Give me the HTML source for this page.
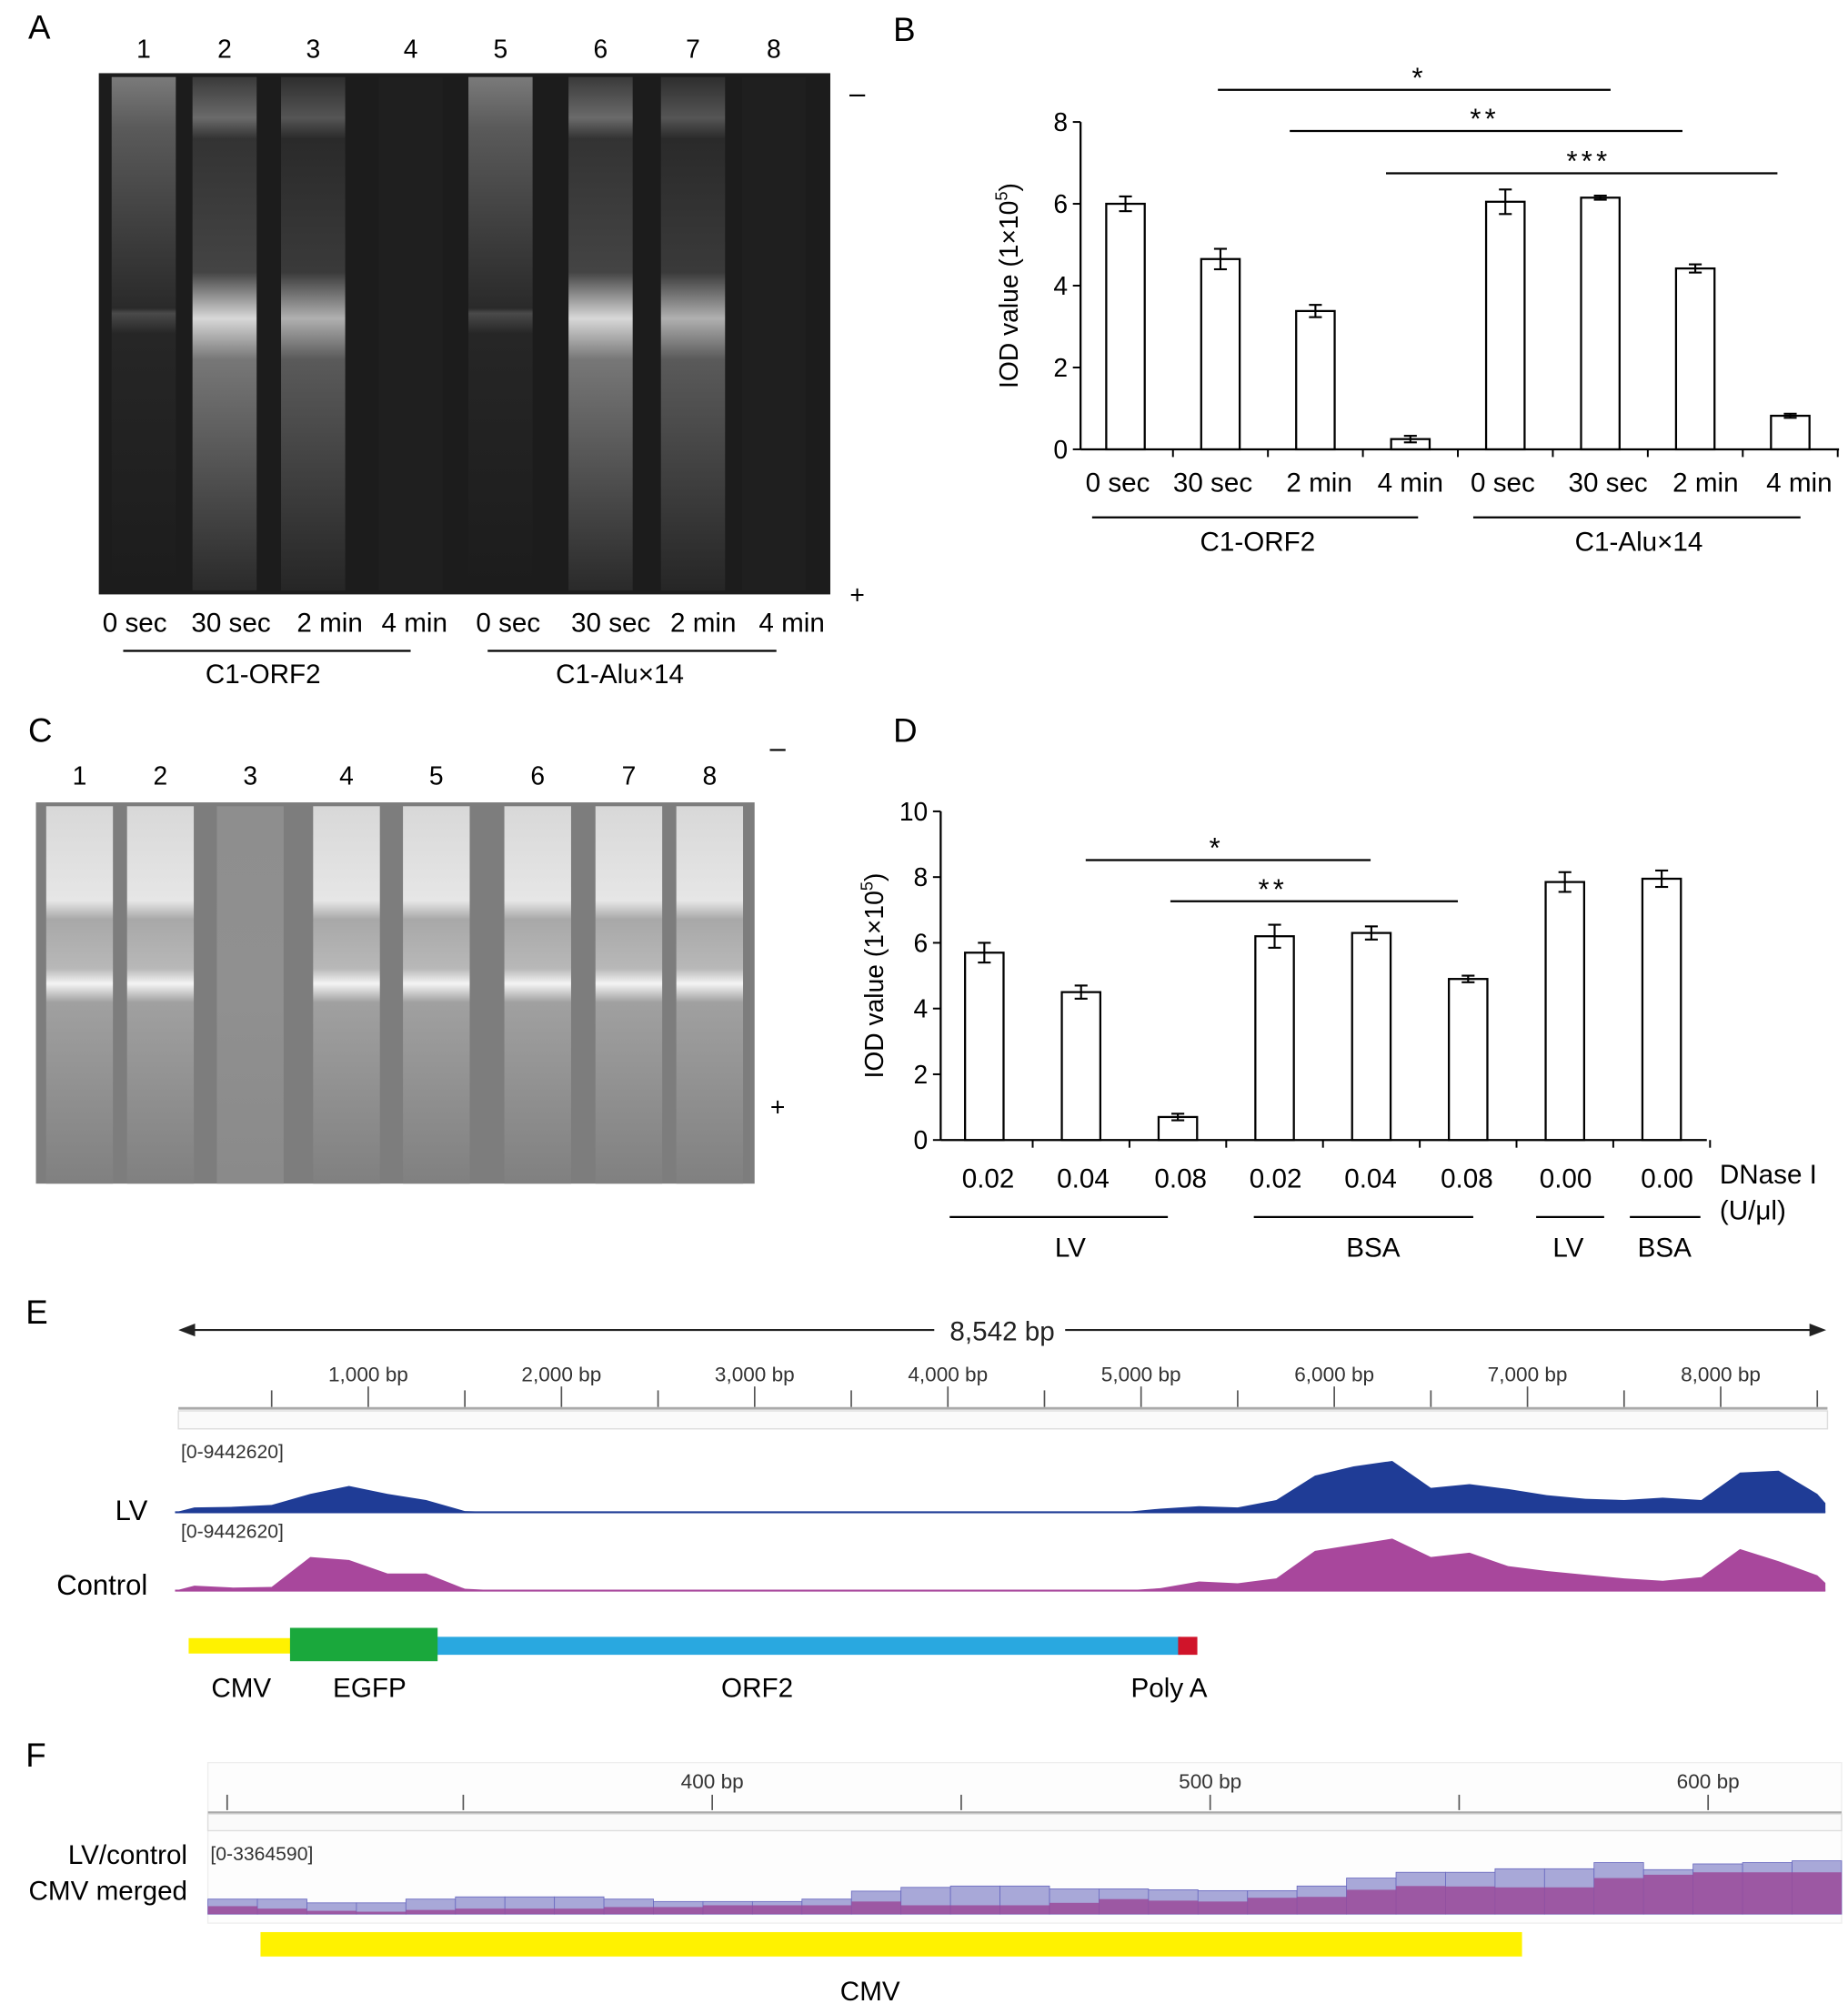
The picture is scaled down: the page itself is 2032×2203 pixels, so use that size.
<!DOCTYPE html>
<html><head><meta charset="utf-8"><style>
html,body{margin:0;padding:0;background:#fff;}
svg{display:block;font-family:"Liberation Sans",Arial,sans-serif;}
</style></head><body>
<svg id="fig" width="2032" height="2203" viewBox="0 0 1440 1561" preserveAspectRatio="none" xmlns="http://www.w3.org/2000/svg">
<defs>
<linearGradient id="gA1" x1="0" y1="0" x2="0" y2="1"><stop offset="0" stop-color="#7a7a7a"/><stop offset="0.1" stop-color="#5a5a5a"/><stop offset="0.3" stop-color="#3e3e3e"/><stop offset="0.45" stop-color="#2a2a2a"/><stop offset="0.46" stop-color="#4a4a4a"/><stop offset="0.5" stop-color="#262626"/><stop offset="1" stop-color="#1c1c1c"/></linearGradient>
<linearGradient id="gA2" x1="0" y1="0" x2="0" y2="1"><stop offset="0" stop-color="#3a3a3a"/><stop offset="0.08" stop-color="#6a6a6a"/><stop offset="0.12" stop-color="#333"/><stop offset="0.38" stop-color="#444"/><stop offset="0.47" stop-color="#d8d8d8"/><stop offset="0.55" stop-color="#777"/><stop offset="1" stop-color="#2a2a2a"/></linearGradient>
<linearGradient id="gA3" x1="0" y1="0" x2="0" y2="1"><stop offset="0" stop-color="#2e2e2e"/><stop offset="0.08" stop-color="#555"/><stop offset="0.12" stop-color="#2a2a2a"/><stop offset="0.38" stop-color="#3a3a3a"/><stop offset="0.47" stop-color="#b0b0b0"/><stop offset="0.55" stop-color="#5a5a5a"/><stop offset="1" stop-color="#262626"/></linearGradient>
<linearGradient id="gC" x1="0" y1="0" x2="0" y2="1"><stop offset="0" stop-color="#d8d8d8"/><stop offset="0.25" stop-color="#e6e6e6"/><stop offset="0.3" stop-color="#a8a8a8"/><stop offset="0.43" stop-color="#b8b8b8"/><stop offset="0.47" stop-color="#f4f4f4"/><stop offset="0.52" stop-color="#a0a0a0"/><stop offset="1" stop-color="#808080"/></linearGradient>
<linearGradient id="gC3" x1="0" y1="0" x2="0" y2="1"><stop offset="0" stop-color="#8e8e8e"/><stop offset="0.5" stop-color="#909090"/><stop offset="1" stop-color="#8a8a8a"/></linearGradient>
</defs>

<!-- PANEL A -->
<g>
<text x="22" y="30" font-size="26">A</text>
<rect x="77" y="57" width="570" height="406" fill="#1c1c1c"/>
<g id="gelALanes"></g>
<g font-size="20" text-anchor="middle" id="laneNumsA"></g>
<text x="668" y="80" font-size="22" text-anchor="middle">–</text>
<text x="668" y="470" font-size="20" text-anchor="middle">+</text>
<g font-size="21" text-anchor="middle" id="laneLabA"></g>
<line x1="96" y1="507" x2="320" y2="507" stroke="#000" stroke-width="1.6"/>
<line x1="380" y1="507" x2="605" y2="507" stroke="#000" stroke-width="1.6"/>
<text x="205" y="532" font-size="21" text-anchor="middle">C1-ORF2</text>
<text x="483" y="532" font-size="21" text-anchor="middle">C1-Alu×14</text>
</g>

<!-- PANEL B -->
<g>
<text x="696" y="32" font-size="26">B</text>
<g id="chartB"></g>
</g>

<!-- PANEL C -->
<g>
<text x="22" y="578" font-size="26">C</text>
<rect x="28" y="625" width="560" height="297" fill="#7d7d7d"/>
<g id="gelCLanes"></g>
<g font-size="20" text-anchor="middle" id="laneNumsC"></g>
<text x="606" y="590" font-size="22" text-anchor="middle">–</text>
<text x="606" y="869" font-size="20" text-anchor="middle">+</text>
</g>

<!-- PANEL D -->
<g>
<text x="696" y="578" font-size="26">D</text>
<g id="chartD"></g>
</g>

<!-- PANEL E -->
<g>
<text x="20" y="1031" font-size="26">E</text>
<line x1="146" y1="1036" x2="728" y2="1036" stroke="#222" stroke-width="1.5"/>
<line x1="830" y1="1036" x2="1416" y2="1036" stroke="#222" stroke-width="1.5"/>
<polygon points="139,1036 152,1031 152,1041" fill="#222"/>
<polygon points="1423,1036 1410,1031 1410,1041" fill="#222"/>
<text x="781" y="1044" font-size="21" text-anchor="middle" fill="#222">8,542 bp</text>
<g id="rulerE"></g>
<line x1="139" y1="1097" x2="1424" y2="1097" stroke="#aaa" stroke-width="2"/>
<rect x="139" y="1099" width="1285" height="14" fill="#fafafa" stroke="#ddd" stroke-width="1"/>
<text x="141" y="1136" font-size="15" fill="#333">[0-9442620]</text>
<text x="141" y="1198" font-size="15" fill="#333">[0-9442620]</text>
<text x="115" y="1184" font-size="22" text-anchor="end">LV</text>
<text x="115" y="1242" font-size="22" text-anchor="end">Control</text>
<g id="covE"></g>
<rect x="147" y="1276" width="80" height="12" fill="#fff200"/>
<rect x="340" y="1275" width="580" height="14" fill="#29a8e0"/>
<rect x="226" y="1268" width="115" height="26" fill="#1aa83c"/>
<rect x="918" y="1275" width="15" height="14" fill="#d0142a"/>
<g font-size="21" text-anchor="middle">
<text x="188" y="1322">CMV</text><text x="288" y="1322">EGFP</text><text x="590" y="1322">ORF2</text><text x="911" y="1322">Poly A</text>
</g>
</g>

<!-- PANEL F -->
<g>
<text x="20" y="1376" font-size="26">F</text>
<rect x="162" y="1373" width="1273" height="125" fill="#fdfdfd" stroke="#eee" stroke-width="1"/>
<g id="rulerF"></g>
<line x1="162" y1="1412" x2="1435" y2="1412" stroke="#aaa" stroke-width="2"/>
<rect x="162" y="1413" width="1273" height="13" fill="#fafafa" stroke="#ddd" stroke-width="1"/>
<text x="164" y="1449" font-size="15" fill="#333">[0-3364590]</text>
<text x="146" y="1452" font-size="21" text-anchor="end">LV/control</text>
<text x="146" y="1480" font-size="21" text-anchor="end">CMV merged</text>
<g id="covF"></g>
<rect x="203" y="1505" width="983" height="19" fill="#fff200"/>
<text x="678" y="1558" font-size="21" text-anchor="middle">CMV</text>
</g>
</svg>
<script>
// ---------- data ----------
const laneNumbersA = ["1","2","3","4","5","6","7","8"];
const timeLabels = ["0 sec","30 sec","2 min","4 min","0 sec","30 sec","2 min","4 min"];
const bValues = [6.0, 4.65, 3.38, 0.25, 6.05, 6.15, 4.42, 0.82];
const bErrors = [0.18, 0.25, 0.15, 0.08, 0.3, 0.05, 0.1, 0.05];
const bTicks = [0, 2, 4, 6, 8];
const dCategories = ["0.02","0.04","0.08","0.02","0.04","0.08","0.00","0.00"];
const dValues = [5.7, 4.5, 0.7, 6.2, 6.3, 4.9, 7.85, 7.95];
const dErrors = [0.3, 0.2, 0.1, 0.35, 0.2, 0.1, 0.3, 0.25];
const dTicks = [0, 2, 4, 6, 8, 10];
const eTickLabels = ["1,000 bp","2,000 bp","3,000 bp","4,000 bp","5,000 bp","6,000 bp","7,000 bp","8,000 bp"];
const lvCoverage = [0.8,0.9,1.2,3.0,4.3,3.0,2.0,0.2, 0,0,0,0,0,0,0,0,0,0,0,0,0,0,0,0,0, 0.6,1.0,0.8,2.0,6.0,7.5,8.4,4.0,4.6,3.8,2.8,2.2,2.0,2.4,2.0,6.5,6.8,3.0];
const ctrlCoverage = [0.8,0.5,0.6,5.5,5.0,2.8,2.8,0.3, 0,0,0,0,0,0,0,0,0,0,0,0,0,0,0,0,0, 0.4,1.5,1.2,2.0,6.5,7.5,8.5,5.5,6.2,4.0,3.2,2.6,2.0,1.6,2.2,6.8,4.8,2.5];
const fTickLabels = ["400 bp","500 bp","600 bp"];
const fLV = [0.68,0.68,0.51,0.51,0.68,0.78,0.78,0.78,0.68,0.57,0.57,0.57,0.68,1.04,1.21,1.27,1.27,1.14,1.14,1.10,1.06,1.06,1.27,1.63,1.89,1.89,2.05,2.05,2.33,2.01,2.27,2.33,2.41];
const fCtrl = [0.36,0.25,0.15,0.11,0.19,0.25,0.25,0.25,0.32,0.32,0.40,0.40,0.40,0.57,0.40,0.40,0.40,0.51,0.68,0.61,0.57,0.74,0.78,1.10,1.27,1.25,1.21,1.21,1.63,1.78,1.89,1.89,1.89];

const NS = "http://www.w3.org/2000/svg";
function mk(parent, tag, attrs, txt){const e=document.createElementNS(NS,tag);for(const k in attrs)e.setAttribute(k,attrs[k]);if(txt!==undefined)e.textContent=txt;parent.appendChild(e);return e;}

// ---------- gel A ----------
const laneXA=[112,175,244,320,390,468,540,603];
const gelA=document.getElementById('gelALanes');
const fillsA=['url(#gA1)','url(#gA2)','url(#gA3)','#1f1f1f','url(#gA1)','url(#gA2)','url(#gA3)','#1f1f1f'];
laneXA.forEach((x,i)=>{
  const r=mk(gelA,'rect',{x:x-25,y:60,width:50,height:400,fill:fillsA[i]});
  
  
});
const lnA=document.getElementById('laneNumsA');
laneNumbersA.forEach((t,i)=>{mk(lnA,'text',{x:laneXA[i],y:45},t);});
const labXA=[105,180,257,323,396,476,548,617];
const llA=document.getElementById('laneLabA');
timeLabels.forEach((t,i)=>{mk(llA,'text',{x:labXA[i],y:492},t);});

// ---------- gel C ----------
const laneXC=[62,125,195,270,340,419,490,553];
const gelC=document.getElementById('gelCLanes');
laneXC.forEach((x,i)=>{
  const r=mk(gelC,'rect',{x:x-26,y:628,width:52,height:294,fill:i===2?'url(#gC3)':'url(#gC)'});
  
  
});
const lnC=document.getElementById('laneNumsC');
laneNumbersA.forEach((t,i)=>{mk(lnC,'text',{x:laneXC[i],y:611},t);});

// ---------- bar chart helper ----------
function barChart(g, o){
  const y=v=>o.y0-(v-0)*(o.y0-o.yTop)/o.yMax;
  const cx=i=>o.x0c+i*o.step;
  mk(g,'line',{x1:o.axX,y1:o.yTop,x2:o.axX,y2:o.y0,stroke:'#000','stroke-width':1.6});
  mk(g,'line',{x1:o.axX,y1:o.y0,x2:o.axEnd,y2:o.y0,stroke:'#000','stroke-width':1.6});
  o.ticks.forEach(t=>{
    mk(g,'line',{x1:o.axX-6,y1:y(t),x2:o.axX,y2:y(t),stroke:'#000','stroke-width':1.4});
    mk(g,'text',{x:o.axX-10,y:y(t)+7,'font-size':20,'text-anchor':'end'},String(t));
  });
  for(let i=0;i<=o.values.length;i++){
    const tx=cx(i)-o.step/2;
    if(tx>o.axX+5) mk(g,'line',{x1:tx,y1:o.y0,x2:tx,y2:o.y0+6,stroke:'#000','stroke-width':1.4});
  }
  o.values.forEach((v,i)=>{
    const b=mk(g,'rect',{x:cx(i)-o.bw/2,y:y(v),width:o.bw,height:o.y0-y(v),fill:'#fff',stroke:'#000','stroke-width':1.6});
    
    
    const e=o.errors[i];
    mk(g,'line',{x1:cx(i),y1:y(v+e),x2:cx(i),y2:y(v-e),stroke:'#000','stroke-width':1.5});
    mk(g,'line',{x1:cx(i)-5,y1:y(v+e),x2:cx(i)+5,y2:y(v+e),stroke:'#000','stroke-width':1.5});
    mk(g,'line',{x1:cx(i)-5,y1:y(v-e),x2:cx(i)+5,y2:y(v-e),stroke:'#000','stroke-width':1.5});
  });
  const yt=mk(g,'text',{x:0,y:0,'font-size':20,'text-anchor':'middle',transform:`translate(${o.titleX},${(o.yTop+o.y0)/2}) rotate(-90)`});
  
  
  yt.innerHTML='IOD value (1×10<tspan font-size="13" dy="-8">5</tspan><tspan dy="8">)</tspan>';
  return {y,cx};
}
function sig(g,x1,x2,yy,stars,sx){
  mk(g,'line',{x1:x1,y1:yy,x2:x2,y2:yy,stroke:'#000','stroke-width':1.6});
  mk(g,'text',{x:sx,y:yy-2,'font-size':22,'text-anchor':'middle','letter-spacing':'3'},stars);
}

// ---------- chart B ----------
const gB=document.getElementById('chartB');
const B=barChart(gB,{y0:350,yTop:95,yMax:8,axX:842,axEnd:1433,x0c:877,step:74,bw:30,values:bValues,errors:bErrors,ticks:bTicks,titleX:793});
const labXB=[871,945,1028,1099,1171,1253,1329,1402];
timeLabels.forEach((t,i)=>{mk(gB,'text',{x:labXB[i],y:383,'font-size':21,'text-anchor':'middle'},t);});
mk(gB,'line',{x1:851,y1:403,x2:1105,y2:403,stroke:'#000','stroke-width':1.6});
mk(gB,'line',{x1:1148,y1:403,x2:1403,y2:403,stroke:'#000','stroke-width':1.6});
mk(gB,'text',{x:980,y:429,'font-size':21,'text-anchor':'middle'},'C1-ORF2');
mk(gB,'text',{x:1277,y:429,'font-size':21,'text-anchor':'middle'},'C1-Alu×14');
sig(gB,949,1255,70,'*',1106);
sig(gB,1005,1311,102,'**',1157);
sig(gB,1080,1385,135,'***',1238);

// ---------- chart D ----------
const gD=document.getElementById('chartD');
barChart(gD,{y0:888,yTop:632,yMax:10,axX:733,axEnd:1330,x0c:767,step:75.4,bw:30,values:dValues,errors:dErrors,ticks:dTicks,titleX:688});
const labXD=[770,844,920,994,1068,1143,1220,1299];
dCategories.forEach((t,i)=>{mk(gD,'text',{x:labXD[i],y:925,'font-size':21,'text-anchor':'middle'},t);});
mk(gD,'text',{x:1340,y:922,'font-size':21},'DNase I');
mk(gD,'text',{x:1340,y:950,'font-size':21},'(U/μl)');
[[740,910],[977,1148],[1197,1250],[1270,1325]].forEach(p=>mk(gD,'line',{x1:p[0],y1:948,x2:p[1],y2:948,stroke:'#000','stroke-width':1.6}));
[['LV',834],['BSA',1070],['LV',1222],['BSA',1297]].forEach(p=>mk(gD,'text',{x:p[1],y:979,'font-size':21,'text-anchor':'middle'},p[0]));
sig(gD,846,1068,670,'*',948);
sig(gD,912,1136,702,'**',992);

// ---------- panel E ----------
const xE=bp=>136.4+bp*0.15055;
const rE=document.getElementById('rulerE');
for(let k=1;k<=17;k++){const bp=k*500;mk(rE,'line',{x1:xE(bp),y1:bp%1000===0?1080:1083,x2:xE(bp),y2:1096,stroke:'#555','stroke-width':1.2});}
eTickLabels.forEach((t,i)=>{mk(rE,'text',{x:xE((i+1)*1000),y:1076,'font-size':16,'text-anchor':'middle',fill:'#333'},t);});
const covE=document.getElementById('covE');
function track(arr,base,color,name){
  const sc=45/9.44;
  let d=`M${xE(0)},${base}`;
  arr.forEach((v,i)=>{d+=` L${xE(i*200+100)},${base-v*sc}`;});
  d+=` L${xE(8542)},${base-arr[arr.length-1]*sc*0.5} L${xE(8542)},${base} Z`;
  const p=mk(covE,'path',{d:d,fill:color});
  
  
  mk(covE,'line',{x1:xE(0),y1:base,x2:xE(8542),y2:base,stroke:color,'stroke-width':1.5});
}
track(lvCoverage,1178,'#1f3c96','lv-coverage');
track(ctrlCoverage,1239,'#a8479c','control-coverage');

// ---------- panel F ----------
const xF=bp=>555+(bp-400)*3.88;
const rF=document.getElementById('rulerF');
for(let k=0;k<7;k++){const bp=300+k*50;mk(rF,'line',{x1:xF(bp)+ (k===0?10:0),y1:1398,x2:xF(bp)+(k===0?10:0),y2:1410,stroke:'#555','stroke-width':1.2});}
fTickLabels.forEach((t,i)=>{mk(rF,'text',{x:xF(400+i*100),y:1393,'font-size':16,'text-anchor':'middle',fill:'#333'},t);});
const covF=document.getElementById('covF');
const fBase=1491, fScale=58/3.3646, binW=(1435-162)/fLV.length;
fLV.forEach((v,i)=>{
  const r=mk(covF,'rect',{x:162+i*binW,y:fBase-v*fScale,width:binW,height:v*fScale,fill:'#a8a8d8',stroke:'#6a6ac0','stroke-width':0.6});
  
  
});
fCtrl.forEach((v,i)=>{
  const r=mk(covF,'rect',{x:162+i*binW,y:fBase-v*fScale,width:binW,height:v*fScale,fill:'#9a4a9a','fill-opacity':0.85});
  
  
});
</script>
</body></html>
